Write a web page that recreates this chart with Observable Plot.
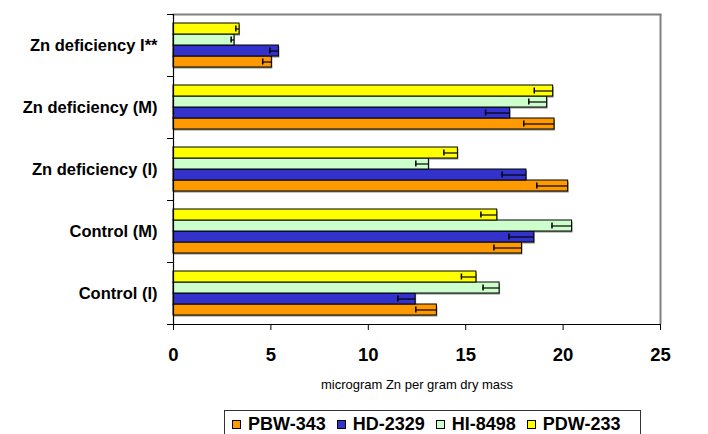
<!DOCTYPE html>
<html>
<head>
<meta charset="utf-8">
<script src="https://cdn.jsdelivr.net/npm/d3@7"></script>
<script src="https://cdn.jsdelivr.net/npm/@observablehq/plot@0.6"></script>
<style>
  html, body { margin: 0; padding: 0; background: #fff; }
  #wrap { position: relative; width: 708px; height: 434px; overflow: hidden; font-family: Arial, "Liberation Sans", sans-serif; }
  #legend { position: absolute; top: 410px; left: 224px; width: 417px; height: 28px; border: 1px solid #333; box-sizing: border-box; display: flex; align-items: center; padding-left: 7px; }
  .item { display: flex; align-items: center; margin-right: 11px; font-size: 18px; font-weight: bold; color: #000; }
  .sw { width: 9px; height: 9px; border: 1px solid #000; margin-right: 7px; box-sizing: border-box; }
</style>
</head>
<body>
<div id="wrap"><div id="chart"></div><div id="legend"></div></div>
<script>
const categories = ["Zn deficiency I**", "Zn deficiency (M)", "Zn deficiency (I)", "Control (M)", "Control (I)"];
const varieties = ["PBW-343", "HD-2329", "HI-8498", "PDW-233"];
const colors = ["#FF9900", "#3333CC", "#CCFFCC", "#FFFF00"];
const xTicks = [0, 5, 10, 15, 20, 25];

const pbw343 = [5.05, 19.56, 20.26, 17.89, 13.52];
const hd2329 = [5.41, 17.28, 18.12, 18.52, 12.43];
const hi8498 = [3.13, 19.18, 13.11, 20.46, 16.74];
const pdw233 = [3.39, 19.49, 14.60, 16.62, 15.55];

const pbw343Err = [0.47, 1.58, 1.61, 1.44, 1.08];
const hd2329Err = [0.46, 1.26, 1.25, 1.30, 0.91];
const hi8498Err = [0.17, 0.94, 0.67, 1.03, 0.85];
const pdw233Err = [0.19, 0.97, 0.72, 0.84, 0.77];

const series = [pbw343, hd2329, hi8498, pdw233];
const errs = [pbw343Err, hd2329Err, hi8498Err, pdw233Err];
const rows = [];
categories.forEach((c, i) => varieties.forEach((v, j) => rows.push({category: c, variety: v, value: series[j][i], err: errs[j][i]})));

const W = 708, H = 410, mt = 14, mb = 86, ml = 173, mr = 48;
const band = (H - mt - mb) / categories.length;
const font = 'Arial, "Liberation Sans", sans-serif';

const chart = Plot.plot({
  width: W, height: H, marginTop: mt, marginBottom: mb, marginLeft: ml, marginRight: mr,
  style: {fontFamily: font, color: "#000", background: "#fff"},
  x: {domain: [0, 25]},
  y: {domain: [...varieties].reverse(), paddingInner: 0, paddingOuter: 0.78, axis: null},
  fy: {domain: categories, padding: 0, axis: null},
  color: {domain: varieties, range: colors},
  marks: [
    Plot.barX(rows, {x: "value", y: "variety", fy: "category", fill: "#8a8a8a", dx: 1, dy: 1.5}),
    Plot.barX(rows, {x: "value", y: "variety", fy: "category", fill: "variety", stroke: "#000", strokeWidth: 1}),
    Plot.ruleY(rows, {x1: d => d.value - d.err, x2: "value", y: "variety", fy: "category", stroke: "#000", strokeWidth: 1.2}),
    Plot.tickX(rows, {x: d => d.value - d.err, y: "variety", fy: "category", stroke: "#000", strokeWidth: 1.5, insetTop: 2.5, insetBottom: 2.5}),
    Plot.ruleX([25], {stroke: "#808080", strokeWidth: 2}),
    Plot.frame({anchor: "top", fy: [categories[0]], stroke: "#808080", strokeWidth: 2}),
    Plot.frame({anchor: "bottom", fy: [categories[categories.length - 1]], stroke: "#000", strokeWidth: 1.2}),
    Plot.ruleX([0], {stroke: "#000", strokeWidth: 1.2}),
    Plot.axisFy({anchor: "left", tickSize: 0, tickPadding: 16, fontSize: 16.5, fontWeight: "bold", label: null}),
    Plot.axisFy({anchor: "left", tickSize: 6, tickFormat: () => "", label: null, dy: band / 2}),
    Plot.axisFy({anchor: "left", tickSize: 6, tickFormat: () => "", label: null, dy: -band / 2}),
    Plot.axisX({ticks: xTicks, tickSize: 6, tickPadding: 17, fontSize: 18.5, fontWeight: "bold", label: null}),
    Plot.axisX({ticks: [], tickSize: 0, fontSize: 13, fontWeight: "normal",
      label: "microgram Zn per gram dry mass", labelAnchor: "center", labelArrow: "none", labelOffset: 64})
  ]
});
document.getElementById("chart").appendChild(chart);

const legend = document.getElementById("legend");
varieties.forEach((v, i) => {
  const it = document.createElement("div");
  it.className = "item";
  const sw = document.createElement("div");
  sw.className = "sw";
  sw.style.background = colors[i];
  it.appendChild(sw);
  it.appendChild(document.createTextNode(v));
  legend.appendChild(it);
});
</script>
</body>
</html>
